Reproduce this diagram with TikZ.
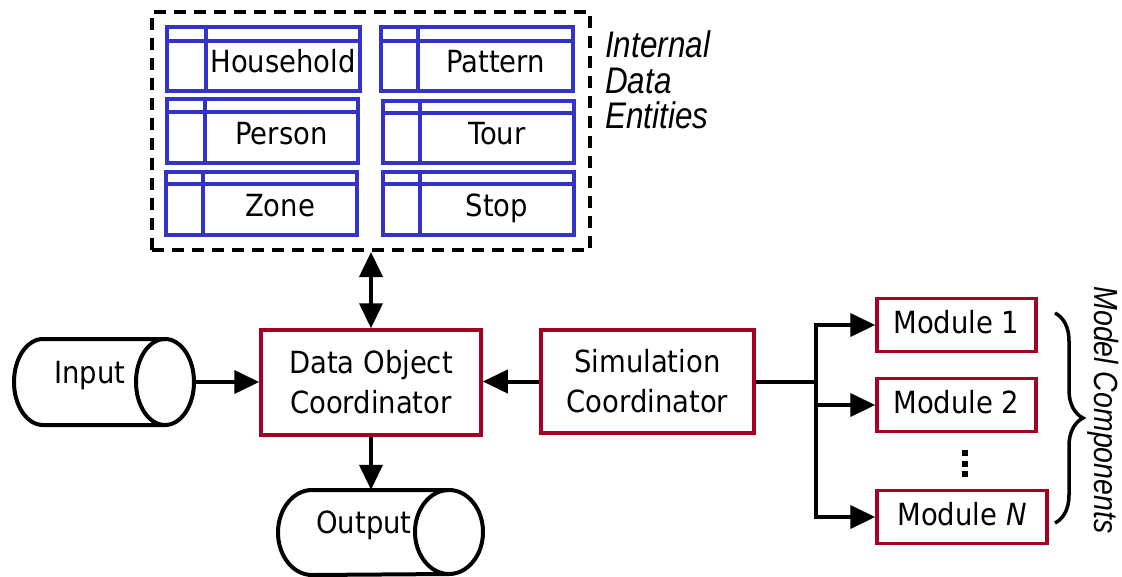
\documentclass[tikz,border=0pt]{standalone}
\usepackage{fontspec}
\setmainfont{DejaVu Sans Condensed}
\newfontfamily\labfont{Liberation Sans}
\usetikzlibrary{arrows.meta,decorations.pathreplacing}
\definecolor{tblue}{RGB}{51,51,204}
\definecolor{bred}{RGB}{165,0,33}
\newcommand\dbtable[8]{%
  \path (#2,#3) coordinate (#1-nw) (#4,#5) coordinate (#1-se);
  \draw[tbl] (#1-nw) rectangle (#1-se);
  \draw[tbl] (#2,#6) -- (#4,#6);
  \draw[tbl] (#7,#3) -- (#7,#5);
  \node[txt, anchor=base] (#1) at ({(#7+#4)/2},{#5-19}) {#8};
}
\begin{document}
\begin{tikzpicture}[x=1pt,y=-1pt,
  txt/.style={font=\fontsize{30.5}{40}\selectfont, inner sep=0pt},
  box/.style={draw=bred, line width=3.5pt, inner sep=0pt, txt, align=center},
  modbox/.style={box, minimum height=53pt, text height=16pt, text depth=0pt},
  con/.style={line width=4pt},
  tip/.tip={Triangle[length=25pt,width=23pt]},
  arr/.style={con, -tip},
  tbl/.style={draw=tblue, line width=4pt},
  lab/.style={inner sep=0pt, font=\labfont\itshape},
  cyl/.style={line width=4pt},
]
\useasboundingbox (0,0) rectangle (1122,576);

% internal data entities
\node[draw, line width=4pt, dash pattern=on 12pt off 8pt,
      minimum width=438pt, minimum height=238pt, inner sep=0pt] (entities) at (371,131) {};
\dbtable{household}{167}{27}{360}{91}{41}{206}{Household}
\dbtable{pattern}{381}{27}{573}{91}{41}{418}{Pattern}
\dbtable{person}{167}{99}{358}{163}{112}{205}{Person}
\dbtable{tour}{383}{101}{574}{163}{113}{420}{Tour}
\dbtable{zone}{166}{172}{357}{235}{184}{203}{Zone}
\dbtable{stop}{383}{172}{574}{235}{184}{420}{Stop}

\node[lab, anchor=base west, font=\labfont\itshape\fontsize{37}{37}\selectfont] (l1) at (605,57) {\scalebox{0.85}[1]{Internal}};
\node[lab, anchor=base west, font=\labfont\itshape\fontsize{37}{37}\selectfont] (l2) at (605,93) {\scalebox{0.85}[1]{Data}};
\node[lab, anchor=base west, font=\labfont\itshape\fontsize{37}{37}\selectfont] (l3) at (605,128) {\scalebox{0.85}[1]{Entities}};

% coordinators
\node[box, minimum width=220pt, minimum height=105pt] (doc) at (371,382.5) {Data Object\\Coordinator};
\node[box, minimum width=213pt, minimum height=103pt] (sim) at (647.5,381.5) {Simulation\\Coordinator};

% input cylinder
\node[minimum width=180pt, minimum height=86pt, inner sep=0pt] (input) at (104,382) {};
\draw[cyl] (165,339) -- (43,339) arc[start angle=90, end angle=270, x radius=29pt, y radius=43pt] -- (165,425);
\draw[cyl] (165,382) ellipse [x radius=29pt, y radius=43pt];
\node[txt, anchor=base] (inputlabel) at (90,383) {Input};

% output cylinder
\node[minimum width=205pt, minimum height=85pt, inner sep=0pt] (output) at (380.5,532.5) {};
\draw[cyl] (449,490) -- (312,490) arc[start angle=90, end angle=270, x radius=34pt, y radius=42.5pt] -- (449,574);
\draw[cyl] (449,532) ellipse [x radius=34pt, y radius=42pt];
\node[txt, anchor=base] (outputlabel) at (364,533) {Output};

% modules
\node[modbox, minimum width=159pt] (m1) at (956.5,325) {Module 1};
\node[modbox, minimum width=159pt] (m2) at (956.5,405) {Module 2};
\node[modbox, minimum width=170pt] (mN) at (962,517) {Module \textit{N}};
\fill (962,450) rectangle (968,456);
\fill (962,461) rectangle (968,467);
\fill (962,471) rectangle (968,477);

% connectors
\draw[con, tip-tip] (doc.north) -- (doc.north |- entities.south);
\draw[arr] (input.east) -- (input.east -| doc.west);
\draw[arr] (sim.west) -- (sim.west -| doc.east);
\draw[arr] (doc.south) -- (doc.south |- output.north);
\coordinate (br) at (816,381.5);
\draw[con] (sim.east) -- (br);
\draw[arr] (br) |- (m1.west);
\draw[arr] (br) |- (m2.west);
\draw[arr] (br) |- (mN.west);

% brace and label
\draw[line width=3.5pt, decorate, decoration={brace, amplitude=28pt}] (1055,313) -- (1055,523);
\node[lab, rotate=-90, font=\labfont\itshape\fontsize{33.5}{33.5}\selectfont] (mc) at (1103,410) {\scalebox{0.85}[1]{Model Components}};
\end{tikzpicture}
\end{document}
